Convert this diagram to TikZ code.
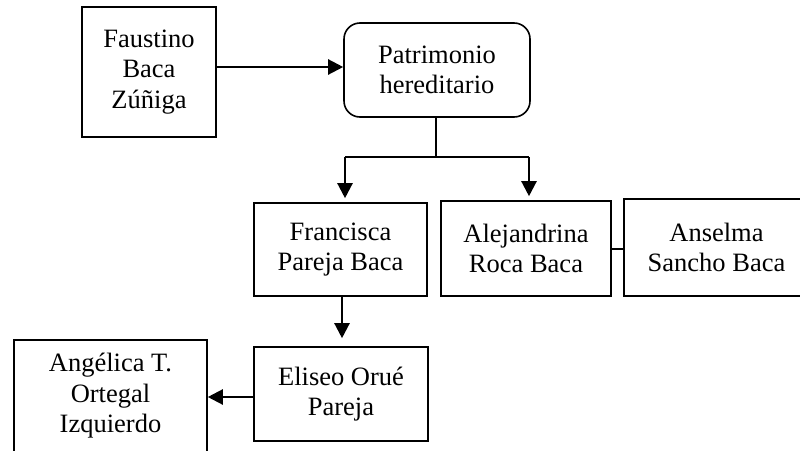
\documentclass[tikz,border=0pt]{standalone}
\usepackage{fontspec}
\setmainfont{Liberation Serif}
\usetikzlibrary{arrows.meta}
\begin{document}
\begin{tikzpicture}[x=1pt,y=-1pt,
  box/.style={draw, line width=1.6pt, inner sep=0pt, align=center,
    font={\fontsize{26.5}{30.5}\selectfont}},
  arr/.style={line width=2.3pt, -{Triangle[length=15pt,width=15pt]}},
  link/.style={line width=1.6pt}]
\useasboundingbox (0,0) rectangle (800,450);
\clip (0,0) rectangle (800,450);
\fill[white] (0,0) rectangle (800,450);
\node[box, minimum width=134pt, minimum height=130pt] (fau) at (149,72) {Faustino\\Baca\\Zúñiga};
\node[box, rounded corners=16pt, minimum width=186pt, minimum height=94pt] (pat) at (437,70) {Patrimonio\\hereditario};
\node[box, minimum width=173pt, minimum height=93pt] (fra) at (340.5,249.5) {Francisca\\Pareja Baca};
\node[box, minimum width=170pt, minimum height=95pt] (ale) at (526,248.5) {Alejandrina\\Roca Baca};
\node[box, minimum width=185pt, minimum height=97pt] (ans) at (716.5,247.5) {Anselma\\Sancho Baca};
\node[box, minimum width=174pt, minimum height=94pt] (eli) at (341,394) {Eliseo Orué\\Pareja};
\node[box, minimum width=193pt, minimum height=112pt] (ang) at (110.5,396) {Angélica T.\\Ortegal\\Izquierdo};
\coordinate (j) at (436,157);
\coordinate (bl) at (345,157);
\coordinate (br) at (529,157);
\draw[arr] (fau.east |- 0,67) -- (pat.west |- 0,67);
\draw[line width=2pt] (pat.south -| j) -- (j);
\draw[line width=1.4pt] (bl) -- (br);
\draw[arr, shorten >=4pt] (bl) -- (bl |- fra.north);
\draw[arr, shorten >=4pt] (br) -- (br |- ale.north);
\draw[arr, shorten >=8pt] (fra.south -| 342,0) -- (eli.north -| 342,0);
\draw[arr] (eli.west |- 0,397) -- (ang.east |- 0,397);
\draw[link] (ale.east |- 0,249) -- (ans.west |- 0,249);
\end{tikzpicture}
\end{document}
